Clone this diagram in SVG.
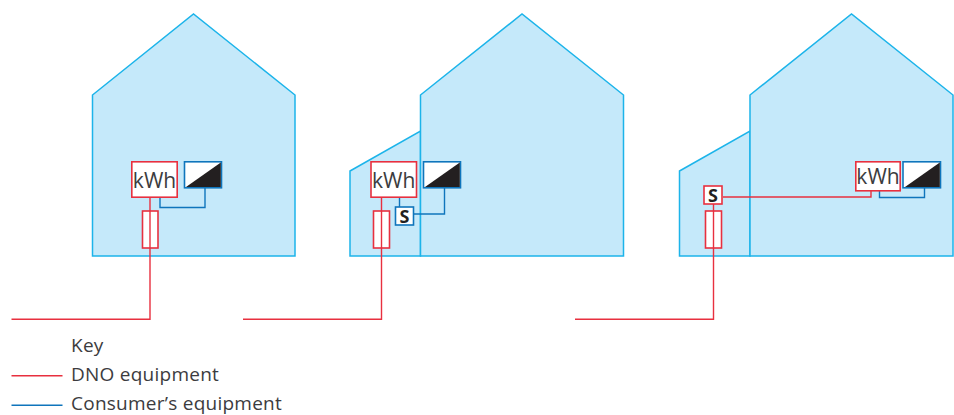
<svg xmlns="http://www.w3.org/2000/svg" width="954" height="415" viewBox="0 0 954 415">
<style>
.house{fill:#c5e9fa;stroke:#1cb4ea;stroke-width:1.5;stroke-linejoin:miter}
.dno{fill:none;stroke:#e8303f;stroke-width:1.4}
.con{fill:none;stroke:#0f75bc;stroke-width:1.4}
.rbox{fill:#fff;stroke:#e8303f;stroke-width:1.6}
.bbox{fill:#fff;stroke:#0f75bc;stroke-width:1.6}
.tri{fill:#231f20}
.kwh{font-family:"Open Sans","Liberation Sans",sans-serif;font-size:21px;fill:#3c3c3e;text-anchor:middle}
.s{font-family:"Open Sans","Liberation Sans",sans-serif;font-size:18px;font-weight:700;fill:#231f20;text-anchor:middle}
.key{font-family:"Open Sans","Liberation Sans",sans-serif;font-size:19px;letter-spacing:.25px;fill:#3c3c3e}
</style>
<g id="house-1">
<polygon class="house" points="92.500,95 193.500,14 295,95 295,256 92.500,256"/>
</g>
<g id="house-2">
<polygon class="house" points="350,171 420.500,131 420.500,256 350,256"/>
<polygon class="house" points="420.500,95 522,14 623.500,95 623.500,256 420.500,256"/>
</g>
<g id="house-3">
<polygon class="house" points="679.500,171 750,131 750,256 679.500,256"/>
<polygon class="house" points="750,95 851.500,14 953,95 953,256 750,256"/>
</g>
<g id="connectors">
<path class="dno" d="M150 197V319.300H11.500"/>
<path class="con" d="M160 197V207.500H205V188"/>
<path class="dno" d="M381.500 197V319.300H243"/>
<path class="con" d="M399.500 197V207"/>
<path class="con" d="M414 214H444.500V188"/>
<path class="dno" d="M713.500 204V319.300H575"/>
<path class="dno" d="M723 197H871V191"/>
<path class="con" d="M879.500 191V197.500H924.500V188"/>
</g>
<g id="meter-1">
<rect class="rbox" x="131.800" y="161.800" width="45.400" height="35.400"/>
<text class="kwh" x="154.500" y="187.500">kWh</text>
</g>
<g id="display-1">
<rect class="bbox" x="184.500" y="161.800" width="37" height="26"/>
<polygon class="tri" points="220.800,162.500 220.800,187 186,187"/>
</g>
<g id="fuse-1">
<rect class="rbox" x="142.500" y="211" width="15.500" height="37"/>
<path class="dno" d="M150 211V248"/>
</g>
<g id="meter-2">
<rect class="rbox" x="371" y="161.800" width="45.500" height="35.400"/>
<text class="kwh" x="393.700" y="187.500">kWh</text>
</g>
<g id="display-2">
<rect class="bbox" x="423.500" y="161.800" width="37" height="26"/>
<polygon class="tri" points="459.800,162.500 459.800,187 425,187"/>
</g>
<g id="switch-2">
<rect class="bbox" x="395.500" y="207" width="18" height="18"/>
<text class="s" x="404.500" y="222.500">S</text>
</g>
<g id="fuse-2">
<rect class="rbox" x="373.500" y="211" width="16" height="37"/>
<path class="dno" d="M381.500 211V248"/>
</g>
<g id="switch-3">
<rect class="rbox" x="704" y="186" width="18" height="18"/>
<text class="s" x="713" y="201.500">S</text>
</g>
<g id="fuse-3">
<rect class="rbox" x="705.500" y="211" width="16" height="37"/>
<path class="dno" d="M713.500 211V248"/>
</g>
<g id="meter-3">
<rect class="rbox" x="855.800" y="161.800" width="44.400" height="29"/>
<text class="kwh" x="878" y="184">kWh</text>
</g>
<g id="display-3">
<rect class="bbox" x="903" y="161.800" width="37.500" height="26"/>
<polygon class="tri" points="939.800,162.500 939.800,187 905,187"/>
</g>
<g id="key">
<text class="key" x="71" y="352">Key</text>
<path class="dno" d="M11.500 375.700H62.500"/>
<text class="key" x="71" y="381">DNO equipment</text>
<path class="con" d="M11.500 405.300H62.500"/>
<text class="key" x="71" y="410">Consumer’s equipment</text>
</g>
</svg>
